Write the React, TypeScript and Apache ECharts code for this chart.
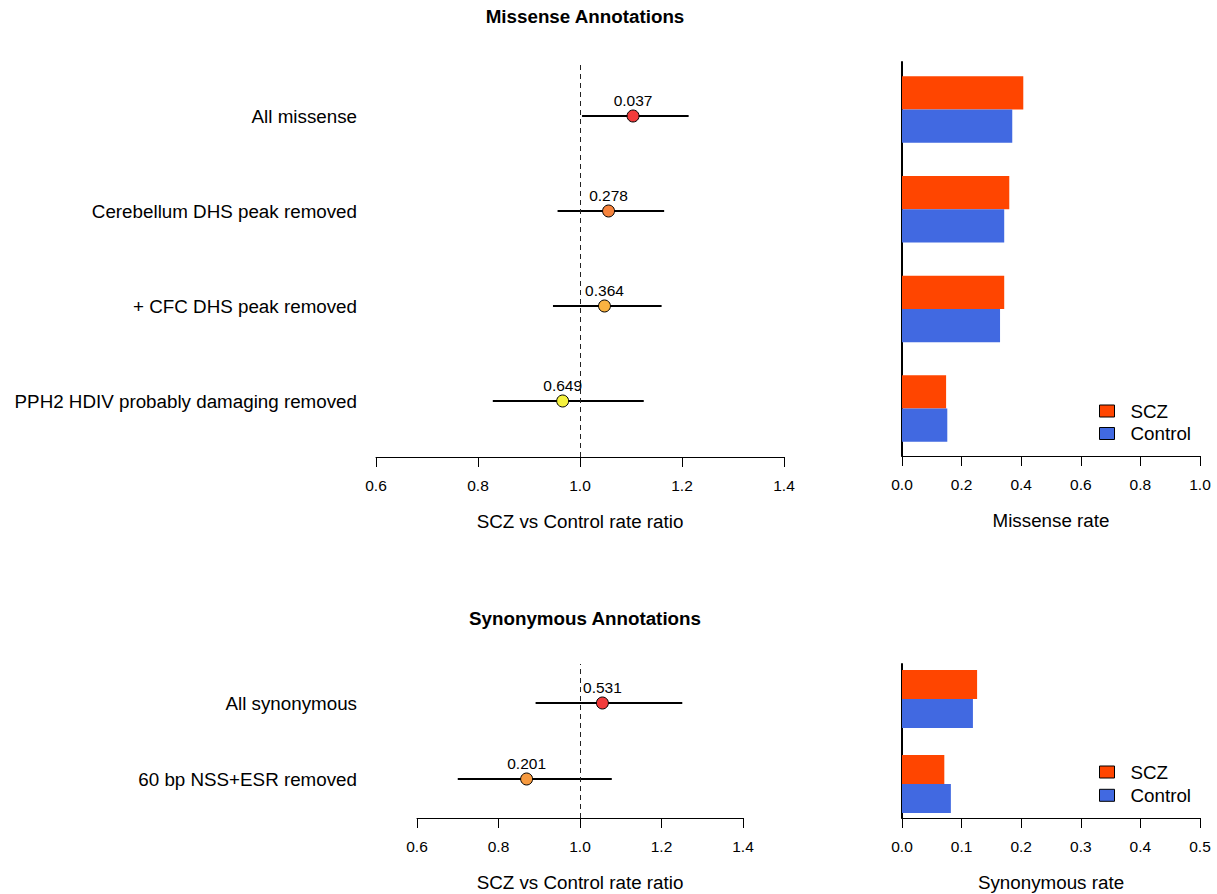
import React, { useEffect, useRef } from "react";
import * as echarts from "echarts";

// ---------------- data ----------------
const missenseCats = [
  "All missense",
  "Cerebellum DHS peak removed",
  "+ CFC DHS peak removed",
  "PPH2 HDIV probably damaging removed",
];
const missenseRatio = [1.104, 1.056, 1.048, 0.966];
const missenseLo = [1.004, 0.956, 0.947, 0.829];
const missenseHi = [1.213, 1.165, 1.16, 1.125];
const missenseP = ["0.037", "0.278", "0.364", "0.649"];
const missensePointColors = ["#F23B3B", "#F6833C", "#F9B241", "#F5F23F"];
const missenseSCZ = [0.407, 0.36, 0.343, 0.148];
const missenseControl = [0.37, 0.343, 0.329, 0.152];

const synCats = ["All synonymous", "60 bp NSS+ESR removed"];
const synRatio = [1.055, 0.869];
const synLo = [0.891, 0.7];
const synHi = [1.251, 1.078];
const synP = ["0.531", "0.201"];
const synPointColors = ["#F23B3B", "#F79A3F"];
const synSCZ = [0.126, 0.071];
const synControl = [0.119, 0.082];

const ratioAxis = { min: 0.6, max: 1.4, interval: 0.2 };
const missenseRateAxis = { min: 0, max: 1, interval: 0.2 };
const synRateAxis = { min: 0, max: 0.5, interval: 0.1 };
const REF_RATIO = 1;
const legendNames = ["SCZ", "Control"];
const SCZ_COLOR = "#FF4500";
const CONTROL_COLOR = "#4169E1";

// ---------------- styles ----------------
const FONT = "'Liberation Sans', Arial, Helvetica, sans-serif";
const BIG = 18.8;
const SMALL = 15.5;

const hiddenX = (gridIndex: number, r: any) => ({
  type: "value",
  gridIndex,
  min: r.min,
  max: r.max,
  show: false,
});

const shownX = (gridIndex: number, r: any, name: string) => ({
  type: "value",
  gridIndex,
  min: r.min,
  max: r.max,
  interval: r.interval,
  name,
  nameLocation: "middle",
  nameGap: 55,
  nameTextStyle: { fontSize: BIG, color: "#000", fontFamily: FONT },
  axisLine: { show: true, onZero: false, lineStyle: { color: "#000", width: 1 } },
  axisTick: { show: true, length: 10, lineStyle: { color: "#000", width: 1 } },
  axisLabel: {
    show: true,
    margin: 20,
    fontSize: SMALL,
    color: "#000",
    fontFamily: FONT,
    showMinLabel: true,
    showMaxLabel: true,
    formatter: (v: number) => v.toFixed(1),
  },
  splitLine: { show: false },
});

const catY = (gridIndex: number, cats: string[], showLabels: boolean, margin: number) => ({
  type: "category",
  gridIndex,
  data: cats,
  inverse: true,
  axisLine: { show: false },
  axisTick: { show: false },
  splitLine: { show: false },
  axisLabel: {
    show: showLabels,
    margin,
    fontSize: BIG,
    color: "#000",
    fontFamily: FONT,
    interval: 0,
  },
});

const hiddenValY = (gridIndex: number, showLine: boolean) => ({
  type: "value",
  gridIndex,
  min: 0,
  max: 1,
  axisLine: { show: showLine, onZero: false, lineStyle: { color: "#000", width: 2 } },
  axisTick: { show: false },
  axisLabel: { show: false },
  splitLine: { show: false },
});

const ciSeries = (axisIdx: number, lo: number[], hi: number[]) => ({
  type: "custom",
  xAxisIndex: axisIdx,
  yAxisIndex: axisIdx,
  silent: true,
  data: lo.map((l, i) => [l, hi[i], i]),
  encode: { x: [0, 1], y: 2 },
  renderItem: (_params: any, api: any) => {
    const y = api.value(2);
    const p1 = api.coord([api.value(0), y]);
    const p2 = api.coord([api.value(1), y]);
    return {
      type: "line",
      shape: { x1: p1[0], y1: p1[1], x2: p2[0], y2: p2[1] },
      style: { stroke: "#000", lineWidth: 2 },
    };
  },
});

const pointSeries = (axisIdx: number, est: number[], p: string[], colors: string[]) => ({
  type: "scatter",
  xAxisIndex: axisIdx,
  yAxisIndex: axisIdx,
  symbol: "circle",
  symbolSize: 12,
  z: 5,
  data: est.map((v, i) => ({
    value: [v, i],
    itemStyle: { color: colors[i], borderColor: "#000", borderWidth: 1, opacity: 1 },
    label: {
      show: true,
      position: "top",
      distance: 1,
      formatter: p[i],
      fontSize: SMALL,
      color: "#000",
      opacity: 1,
      fontFamily: FONT,
    },
  })),
});

const refLineSeries = (axisIdx: number) => ({
  type: "scatter",
  xAxisIndex: axisIdx,
  yAxisIndex: axisIdx,
  data: [],
  silent: true,
  markLine: {
    silent: true,
    symbol: "none",
    label: { show: false },
    lineStyle: { type: [5, 4], color: "#222", width: 1 },
    data: [{ xAxis: REF_RATIO }],
  },
});

const barSeries = (axisIdx: number, name: string, values: number[], color: string, gap: string) => ({
  type: "bar",
  name,
  xAxisIndex: axisIdx,
  yAxisIndex: axisIdx,
  barGap: "0%",
  barCategoryGap: gap,
  itemStyle: { color },
  data: values,
});

const legendBlock = (top: number, gap: number) => ({
  orient: "vertical",
  left: 1094,
  top,
  data: legendNames,
  icon: "rect",
  itemWidth: 15,
  itemHeight: 12,
  itemGap: gap,
  selectedMode: false,
  itemStyle: { borderColor: "#000", borderWidth: 1 },
  textStyle: {
    fontSize: BIG,
    color: "#000",
    fontFamily: FONT,
    lineHeight: 19,
    padding: [0, 0, 0, 11],
  },
});

export default function App() {
  const ref = useRef<HTMLDivElement>(null);
  useEffect(() => {
    if (!ref.current) return;
    const chart = echarts.init(ref.current, undefined, { renderer: "svg" });
    const option: any = {
      animation: false,
      backgroundColor: "#fff",
      textStyle: { fontFamily: FONT },
      title: [
        {
          text: "Missense Annotations",
          left: 580,
          top: 2,
          textAlign: "center",
          textStyle: { fontSize: BIG, fontWeight: "bold", color: "#000", fontFamily: FONT },
        },
        {
          text: "Synonymous Annotations",
          left: 580,
          top: 604,
          textAlign: "center",
          textStyle: { fontSize: BIG, fontWeight: "bold", color: "#000", fontFamily: FONT },
        },
      ],
      legend: [legendBlock(396.5, 3.5), legendBlock(757.5, 4.3)],
      grid: [
        // missense forest: data / axis
        { left: 376, width: 408, top: 68.5, height: 380 },
        { left: 376, width: 408, top: 63, height: 394 },
        // missense bars: data / axis
        { left: 902, width: 298, top: 59.7, height: 398.7 },
        { left: 902, width: 298, top: 62, height: 394 },
        // synonymous forest: data / axis
        { left: 417, width: 326, top: 665, height: 152 },
        { left: 417, width: 326, top: 664, height: 154 },
        // synonymous bars: data / axis
        { left: 902, width: 298, top: 656.5, height: 170 },
        { left: 902, width: 298, top: 664, height: 154 },
      ],
      xAxis: [
        hiddenX(0, ratioAxis),
        shownX(1, ratioAxis, "SCZ vs Control rate ratio"),
        hiddenX(2, missenseRateAxis),
        shownX(3, missenseRateAxis, "Missense rate"),
        hiddenX(4, ratioAxis),
        shownX(5, ratioAxis, "SCZ vs Control rate ratio"),
        hiddenX(6, synRateAxis),
        shownX(7, synRateAxis, "Synonymous rate"),
      ],
      yAxis: [
        catY(0, missenseCats, true, 19),
        hiddenValY(1, false),
        catY(2, missenseCats, false, 0),
        hiddenValY(3, true),
        catY(4, synCats, true, 60),
        hiddenValY(5, false),
        catY(6, synCats, false, 0),
        hiddenValY(7, true),
      ],
      series: [
        ciSeries(0, missenseLo, missenseHi),
        pointSeries(0, missenseRatio, missenseP, missensePointColors),
        refLineSeries(1),
        barSeries(2, "SCZ", missenseSCZ, SCZ_COLOR, "33.3%"),
        barSeries(2, "Control", missenseControl, CONTROL_COLOR, "33.3%"),
        ciSeries(4, synLo, synHi),
        pointSeries(4, synRatio, synP, synPointColors),
        refLineSeries(5),
        barSeries(6, "SCZ", synSCZ, SCZ_COLOR, "31.8%"),
        barSeries(6, "Control", synControl, CONTROL_COLOR, "31.8%"),
      ],
    };
    chart.setOption(option);
    return () => chart.dispose();
  }, []);
  return (
    <div
      ref={ref}
      style={{ position: "absolute", left: 0, top: 0, width: 1217, height: 894 }}
    />
  );
}
